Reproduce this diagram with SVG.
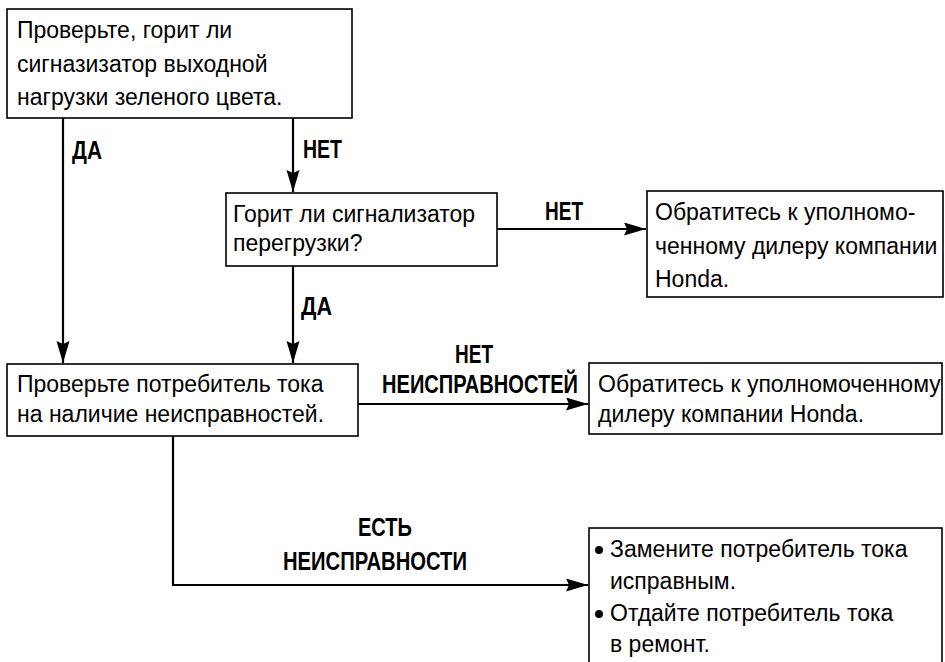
<svg xmlns="http://www.w3.org/2000/svg" width="945" height="662" viewBox="0 0 945 662">
<defs>
<marker id="arr" markerUnits="userSpaceOnUse" markerWidth="24" markerHeight="14" refX="22" refY="6.5" orient="auto">
<path d="M0,0 L22,6.5 L0,13 L3,6.5 Z" fill="#000"/>
</marker>
</defs>
<style>
.box{fill:#fff;stroke:#000;stroke-width:1.6}
.t{font-family:"Liberation Sans",Arial,sans-serif;font-size:23px;fill:#000}
.b{font-family:"Liberation Sans",Arial,sans-serif;font-size:25px;font-weight:bold;fill:#000}
.c{fill:none;stroke:#000;stroke-width:2.2}
</style>
<g id="connectors">
<line class="c" x1="63" y1="118" x2="63" y2="363" marker-end="url(#arr)"/>
<line class="c" x1="293" y1="118" x2="293" y2="192" marker-end="url(#arr)"/>
<line class="c" x1="293" y1="266" x2="293" y2="363" marker-end="url(#arr)"/>
<line class="c" x1="497" y1="229" x2="646" y2="229" marker-end="url(#arr)"/>
<line class="c" x1="358" y1="404" x2="588" y2="404" marker-end="url(#arr)"/>
<path class="c" d="M173,436 V585 H588" marker-end="url(#arr)"/>
<text class="b" transform="translate(72,159) scale(0.8,1)" textLength="37.5" lengthAdjust="spacingAndGlyphs">ДА</text>
<text class="b" transform="translate(303,158) scale(0.8,1)" textLength="48.75" lengthAdjust="spacingAndGlyphs">НЕТ</text>
<text class="b" transform="translate(301,315) scale(0.8,1)" textLength="38.75" lengthAdjust="spacingAndGlyphs">ДА</text>
<text class="b" transform="translate(545,220) scale(0.8,1)" textLength="47.5" lengthAdjust="spacingAndGlyphs">НЕТ</text>
<text class="b" transform="translate(455,363) scale(0.8,1)" textLength="47.5" lengthAdjust="spacingAndGlyphs">НЕТ</text>
<text class="b" transform="translate(382,393) scale(0.8,1)" textLength="245" lengthAdjust="spacingAndGlyphs">НЕИСПРАВНОСТЕЙ</text>
<text class="b" transform="translate(358,536) scale(0.8,1)" textLength="67.5" lengthAdjust="spacingAndGlyphs">ЕСТЬ</text>
<text class="b" transform="translate(283,570) scale(0.8,1)" textLength="230" lengthAdjust="spacingAndGlyphs">НЕИСПРАВНОСТИ</text>
</g>
<g id="n1">
<rect class="box" x="7" y="9" width="345" height="109"/>
<text class="t" x="17" y="38">Проверьте, горит ли</text>
<text class="t" x="17" y="72">сигназизатор выходной</text>
<text class="t" x="17" y="105">нагрузки зеленого цвета.</text>
</g>
<g id="n2">
<rect class="box" x="226" y="193" width="271" height="73"/>
<text class="t" x="233" y="222">Горит ли сигнализатор</text>
<text class="t" x="233" y="251">перегрузки?</text>
</g>
<g id="n3">
<rect class="box" x="647" y="191" width="296" height="106"/>
<text class="t" x="655" y="220">Обратитесь к уполномо-</text>
<text class="t" x="655" y="254">ченному дилеру компании</text>
<text class="t" x="655" y="287">Honda.</text>
</g>
<g id="n4">
<rect class="box" x="7" y="364" width="351" height="72"/>
<text class="t" x="17" y="392">Проверьте потребитель тока</text>
<text class="t" x="17" y="422">на наличие неисправностей.</text>
</g>
<g id="n5">
<rect class="box" x="589" y="363" width="353" height="71"/>
<text class="t" x="598" y="392">Обратитесь к уполномоченному</text>
<text class="t" x="598" y="422">дилеру компании Honda.</text>
</g>
<g id="n6">
<rect class="box" x="589" y="528" width="353" height="150"/>
<circle cx="599" cy="550" r="4" fill="#000"/>
<text class="t" x="610" y="557">Замените потребитель тока</text>
<text class="t" x="610" y="589">исправным.</text>
<circle cx="599" cy="614" r="4" fill="#000"/>
<text class="t" x="610" y="621">Отдайте потребитель тока</text>
<text class="t" x="610" y="652">в ремонт.</text>
</g>
</svg>
